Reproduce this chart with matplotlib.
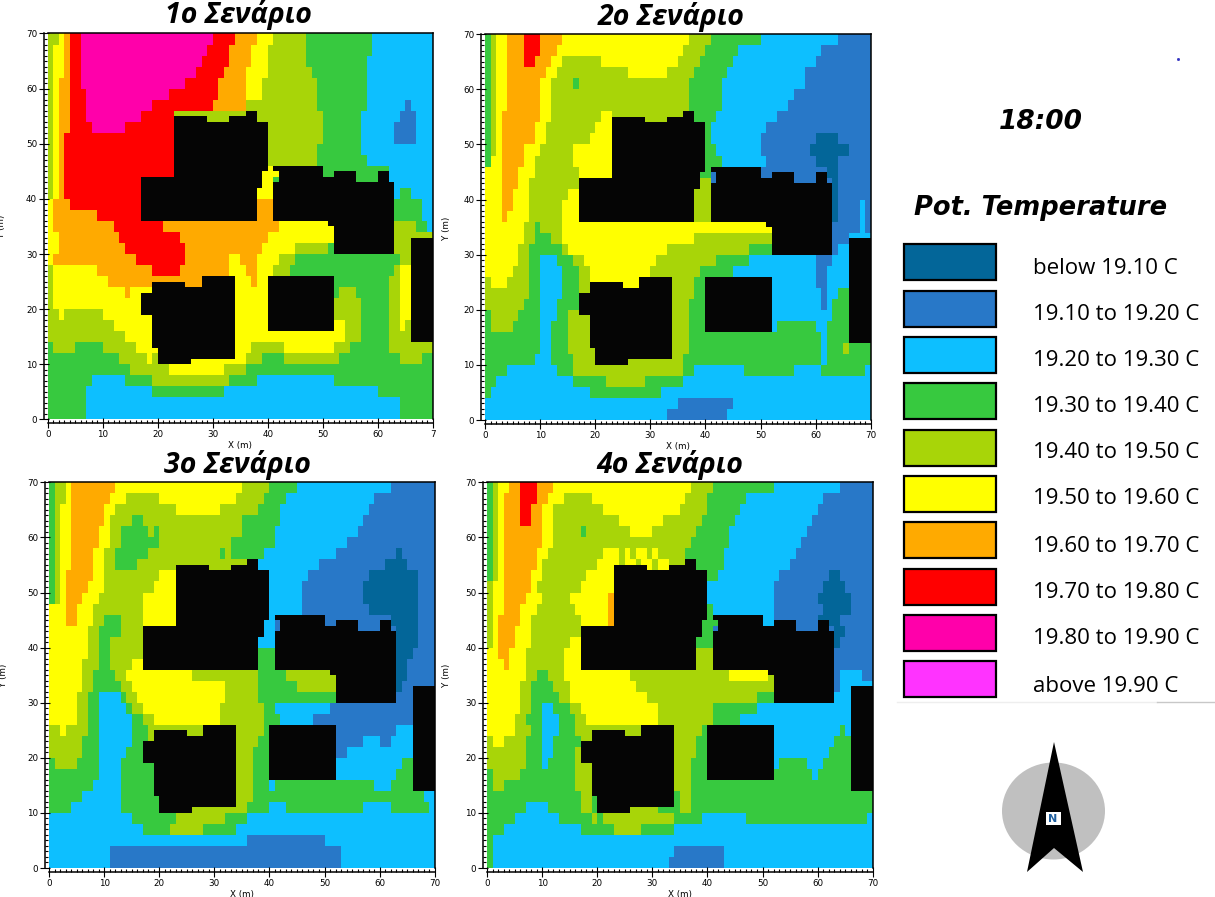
import numpy as np
import matplotlib
matplotlib.use("Agg")
import matplotlib.pyplot as plt
import matplotlib.patches as mpatches
from matplotlib.colors import ListedColormap, BoundaryNorm

# colour classes, lowest to highest
LEGEND_LABELS = ["below 19.10 C", "19.10 to 19.20 C", "19.20 to 19.30 C", "19.30 to 19.40 C",
                 "19.40 to 19.50 C", "19.50 to 19.60 C", "19.60 to 19.70 C", "19.70 to 19.80 C",
                 "19.80 to 19.90 C", "above 19.90 C"]
CLASS_COLORS = ["#036699", "#2878C8", "#0DBFFF", "#37C93F", "#A8D508",
                "#FFFF00", "#FFAA00", "#FF0000", "#FF00AA", "#FF33FF"]

TITLES = ["1ο Σενάριο", "2ο Σενάριο", "3ο Σενάριο", "4ο Σενάριο"]
TICKS = [0, 10, 20, 30, 40, 50, 60, 70]

# rows from y=70 down, 2 m each. Pairs of "class end_x"
PANEL_1 = [
    "4 2 5 3 6 4 7 6 8 30 7 34 6 38 5 41 4 47 3 59 2 70",
    "4 1 5 3 6 4 7 6 8 29 7 33 6 37 5 40 4 47 3 59 2 70",
    "4 1 5 3 6 4 7 6 8 28 7 33 6 37 5 40 4 47 3 58 2 70",
    "4 1 5 3 6 4 7 6 8 27 7 32 6 36 5 40 4 48 3 58 2 70",
    "4 1 5 2 6 4 7 6 8 25 7 31 6 36 5 39 4 49 3 58 2 70",
    "4 1 5 2 6 4 7 7 8 22 7 31 6 36 5 39 4 49 3 58 2 70",
    "4 1 5 2 6 4 7 7 8 19 7 30 6 36 4 49 3 58 2 65 1 66 2 70",
    "4 1 5 2 6 4 7 7 8 17 7 23 4 50 3 57 2 64 1 67 2 70",
    "4 1 5 2 6 4 7 8 8 14 7 23 4 50 3 57 2 63 1 67 2 70",
    "4 1 5 2 6 3 7 40 4 50 3 57 2 63 1 67 2 70",
    "4 1 5 2 6 3 7 40 4 49 3 57 2 70",
    "4 1 5 2 6 3 7 40 4 49 3 58 2 70",
    "4 1 5 2 6 3 7 39 5 42 3 62 2 70",
    "4 1 5 2 6 3 7 39 5 41 3 60 2 70",
    "4 1 5 2 6 3 7 38 5 41 2 64 3 66 2 70",
    "5 1 6 4 7 38 6 41 3 68 2 70",
    "5 1 6 9 7 38 6 41 3 68 2 70",
    "5 1 6 12 7 21 6 42 5 52 4 67 3 69 2 70",
    "5 2 6 13 7 24 6 40 5 52 4 70",
    "5 2 6 14 7 25 6 39 5 45 4 51 3 63 4 70",
    "5 1 6 16 7 25 6 33 5 35 6 38 5 42 4 45 3 64 4 70",
    "4 1 5 9 6 19 7 24 6 33 5 36 6 38 5 41 4 44 3 63 4 64 5 70",
    "4 1 5 11 6 28 5 37 6 38 5 52 3 62 4 64 5 70",
    "4 1 5 14 6 15 5 52 3 53 4 56 3 62 4 64 5 70",
    "4 1 5 52 4 57 3 62 4 64 5 70",
    "4 2 5 3 4 10 5 52 4 57 3 62 4 64 5 70",
    "4 12 5 54 4 57 3 62 4 64 5 65 4 70",
    "4 14 5 54 4 57 3 62 4 70",
    "3 1 4 5 3 10 4 16 5 37 4 43 5 52 4 55 3 62 4 70",
    "3 13 4 18 5 19 4 26 5 36 4 39 3 43 4 53 3 64 4 68 3 70",
    "3 15 4 22 5 32 4 36 3 70",
    "3 8 2 14 3 19 4 33 3 38 2 52 3 70",
    "3 7 2 19 3 32 2 60 3 70",
    "3 7 2 64 3 70",
    "3 7 2 64 3 70",
]

PANEL_2 = [
    "3 1 4 2 5 4 6 7 7 10 6 14 5 37 4 41 3 50 2 64 1 70",
    "3 1 4 2 5 4 6 7 7 10 6 13 5 36 4 40 3 46 2 61 1 70",
    "3 1 4 2 5 4 6 7 7 9 6 12 5 14 4 21 5 35 4 39 3 45 2 60 1 70",
    "3 1 4 2 5 4 6 11 5 13 4 26 5 33 4 38 3 44 2 58 1 70",
    "3 1 4 2 5 4 6 10 5 12 4 16 3 17 4 37 3 43 2 58 1 70",
    "3 1 4 2 5 4 6 10 5 12 4 37 3 43 2 56 1 70",
    "3 1 4 2 5 4 6 10 5 12 4 37 3 43 2 55 1 70",
    "3 1 4 2 5 3 6 10 5 12 4 21 5 23 4 38 3 42 2 53 1 70",
    "3 1 4 2 5 3 6 9 5 11 4 20 5 40 3 41 2 51 1 70",
    "3 1 4 2 5 3 6 9 5 11 4 19 5 40 3 41 2 50 1 60 0 64 1 70",
    "3 1 4 2 5 3 6 7 5 10 4 16 5 40 3 42 2 50 1 59 0 66 1 70",
    "3 1 5 3 6 7 5 9 4 16 5 40 3 43 2 51 1 60 0 64 1 70",
    "5 3 6 6 5 9 4 17 5 39 3 41 1 62 0 64 1 70",
    "5 3 6 6 5 8 4 17 5 39 4 41 1 63 0 64 1 70",
    "5 3 6 5 5 8 4 15 5 38 4 41 1 63 0 64 1 70",
    "5 3 6 5 5 8 4 14 5 38 4 41 1 63 0 64 1 68 2 69 1 70",
    "5 3 6 4 5 8 4 14 5 38 4 41 1 63 0 64 1 68 2 69 1 70",
    "5 7 4 9 3 10 4 14 5 52 4 63 1 68 2 69 1 70",
    "5 7 4 9 3 12 4 14 5 38 4 52 1 66 2 70",
    "5 6 4 8 3 14 4 15 5 33 4 48 3 52 1 64 2 70",
    "5 6 4 8 3 10 2 13 3 16 4 18 5 31 4 42 3 48 2 60 1 63 2 70",
    "5 5 4 8 3 10 2 14 3 17 4 19 5 30 4 39 3 45 2 60 1 62 2 70",
    "4 1 5 4 4 8 3 10 2 14 3 17 4 19 5 28 4 38 3 40 2 60 1 62 2 70",
    "4 8 3 10 2 14 3 17 4 38 3 40 2 61 1 62 2 64 3 70",
    "4 7 3 10 2 13 3 17 4 37 3 40 2 61 1 62 2 63 3 70",
    "3 1 4 6 3 10 2 13 3 15 4 37 3 40 2 63 3 70",
    "3 1 4 5 3 10 2 12 3 15 4 37 3 40 2 53 3 60 2 62 3 70",
    "3 10 2 12 3 15 4 37 3 61 2 62 3 70",
    "3 10 2 12 3 15 4 37 3 61 2 62 3 65 4 66 3 70",
    "3 9 2 12 3 16 4 36 3 61 2 62 3 70",
    "3 4 2 13 3 16 4 36 3 38 2 47 3 56 2 61 3 69 2 70",
    "3 2 2 16 3 22 4 29 3 36 2 70",
    "3 1 2 19 3 32 2 70",
    "2 35 1 45 2 70",
    "2 33 1 44 2 70",
]

PANEL_3 = [
    "3 1 4 3 5 4 6 12 5 35 4 40 3 45 2 62 1 70",
    "3 1 4 3 5 4 6 11 5 14 4 20 5 34 4 39 3 43 2 59 1 70",
    "3 1 4 2 5 4 6 10 5 12 4 23 5 31 4 38 3 42 2 58 1 70",
    "3 1 4 2 5 4 6 10 5 11 4 15 3 17 4 35 3 42 2 57 1 70",
    "3 1 4 2 5 4 6 9 5 11 4 13 3 18 4 19 3 20 4 35 3 41 2 56 1 70",
    "3 1 4 2 5 4 6 9 5 11 4 13 3 20 4 33 3 41 2 54 1 70",
    "3 1 4 2 5 4 6 8 5 10 4 12 3 18 4 31 3 32 4 33 3 39 2 52 1 63 0 64 1 70",
    "3 1 4 2 5 4 6 8 5 10 4 12 3 16 4 38 2 49 1 61 0 65 1 70",
    "3 1 4 2 5 3 6 8 5 10 4 20 5 40 2 47 1 58 0 67 1 70",
    "3 1 4 2 5 3 6 7 5 10 4 19 5 40 2 46 1 57 0 67 1 70",
    "3 1 4 2 5 3 6 6 5 9 4 17 5 40 2 46 1 57 0 67 1 70",
    "5 3 6 5 5 8 4 17 5 40 2 46 1 58 0 67 1 70",
    "5 3 6 5 5 8 4 10 3 13 4 17 5 39 2 41 1 62 0 67 1 70",
    "5 7 4 9 3 13 4 17 5 39 2 41 1 63 0 67 1 70",
    "5 7 4 9 3 11 4 17 5 38 2 41 1 63 0 67 1 70",
    "5 7 4 9 3 11 4 17 5 38 3 41 1 63 0 66 1 70",
    "5 6 4 9 3 11 4 15 5 38 3 41 1 63 0 65 1 70",
    "5 6 4 8 3 12 4 14 5 26 4 38 3 43 4 63 0 65 1 70",
    "5 6 4 8 3 13 4 15 5 32 4 38 3 45 4 63 0 64 1 70",
    "5 5 4 7 3 9 2 13 3 14 4 16 5 32 4 38 3 63 1 70",
    "5 5 4 7 3 9 2 14 3 15 4 17 5 31 4 39 3 41 2 51 1 70",
    "5 5 4 7 3 9 2 15 3 17 4 19 5 31 4 39 3 42 2 48 1 70",
    "4 2 5 3 4 7 3 9 2 15 3 18 4 39 3 40 1 63 2 70",
    "4 6 3 9 2 15 3 18 4 38 3 40 1 57 2 60 1 62 2 70",
    "4 6 3 9 2 14 3 17 4 37 3 40 1 54 2 70",
    "3 1 4 5 3 9 2 13 3 19 4 37 3 40 2 64 3 70",
    "3 9 2 13 3 19 4 37 3 40 2 63 3 70",
    "3 8 2 13 3 19 4 37 3 40 2 41 3 59 2 62 3 70",
    "3 6 2 13 3 20 4 37 3 68 2 70",
    "3 4 2 13 3 20 4 36 3 40 2 43 3 57 2 62 3 69 2 70",
    "2 15 3 23 4 32 3 36 2 70",
    "2 17 3 22 4 28 3 34 2 70",
    "2 36 1 50 2 70",
    "2 11 1 53 2 70",
    "2 11 1 53 2 70",
]

PANEL_4 = [
    "3 1 4 2 5 4 6 6 7 9 6 12 5 37 4 41 3 52 2 64 1 70",
    "3 1 4 2 5 3 6 6 7 9 6 11 5 14 4 19 5 36 4 40 3 47 2 61 1 70",
    "3 1 4 2 5 3 6 6 7 8 6 10 5 12 4 21 5 35 4 40 3 46 2 60 1 70",
    "3 1 4 2 5 3 6 6 7 8 6 10 5 12 4 24 5 32 4 39 3 45 2 59 1 70",
    "3 1 4 2 5 3 6 10 5 12 4 17 3 18 4 26 5 30 4 38 3 44 2 58 1 70",
    "3 1 4 2 5 3 6 10 5 12 4 37 3 44 2 57 1 70",
    "3 1 4 2 5 3 6 9 5 11 4 21 5 24 4 25 5 26 4 27 5 29 4 30 5 31 4 36 3 43 2 56 1 70",
    "3 1 4 2 5 3 6 9 5 10 4 20 5 24 4 25 5 27 4 28 5 30 4 31 5 33 4 36 3 43 2 55 1 70",
    "3 1 4 2 5 3 6 8 5 10 4 18 5 40 3 42 2 53 1 62 0 64 1 70",
    "4 1 5 3 6 8 5 9 4 17 5 40 2 52 1 61 0 65 1 70",
    "4 1 5 3 6 7 5 10 4 15 5 22 6 40 2 52 1 60 0 66 1 70",
    "4 1 5 3 6 6 5 9 4 16 5 22 6 40 3 41 2 52 1 61 0 66 1 70",
    "4 1 5 2 6 6 5 8 4 17 5 22 6 39 3 42 2 52 1 60 0 64 1 70",
    "4 1 5 2 6 5 5 8 4 17 3 41 1 63 0 65 1 70",
    "4 1 5 2 6 5 5 8 4 15 5 17 3 41 1 63 0 64 1 70",
    "5 2 6 4 5 7 4 14 5 17 4 41 1 70",
    "5 3 6 4 5 7 4 14 5 17 4 41 1 70",
    "5 7 4 9 3 11 4 14 5 26 4 44 5 51 4 63 1 64 2 68 1 70",
    "5 6 4 8 3 12 4 15 5 27 4 63 1 64 2 70",
    "5 6 4 8 3 13 4 15 5 29 4 49 3 63 2 70",
    "5 6 4 8 3 10 2 12 3 15 4 17 5 31 4 41 3 49 2 70",
    "5 5 4 7 3 10 2 13 3 16 4 18 5 31 4 41 3 46 2 70",
    "5 5 4 8 3 10 2 13 3 16 4 39 3 40 2 64 3 65 2 70",
    "4 1 5 3 4 7 3 10 2 12 3 17 4 38 3 40 2 63 3 70",
    "4 7 3 10 2 12 3 16 4 38 3 40 2 62 3 70",
    "4 7 3 10 2 11 3 16 4 37 3 40 2 53 3 58 2 61 3 70",
    "3 1 4 6 3 16 4 37 3 40 2 52 3 59 2 60 3 70",
    "3 1 4 3 3 16 4 19 4 37 3 70",
    "3 17 4 19 3 35 4 37 3 70",
    "3 7 2 11 3 17 4 19 3 20 4 31 3 35 4 37 3 70",
    "3 5 2 13 3 19 4 20 3 21 4 34 3 39 2 47 3 69 2 70",
    "3 3 2 17 3 23 4 28 3 34 2 70",
    "3 1 2 70",
    "3 1 2 34 1 43 2 70",
    "3 1 2 33 1 43 2 70",
]

# buildings, same in every scenario: y_from, y_to, x_from, x_to
BUILDINGS = [
    (55, 56, 36, 38), (54, 55, 23, 29), (54, 55, 33, 38), (45, 54, 23, 40), (44, 45, 23, 39),
    (42, 44, 17, 39), (36, 42, 17, 38),
    (45, 46, 41, 50), (44, 45, 42, 50), (44, 45, 52, 56), (44, 45, 60, 62), (43, 44, 42, 56),
    (43, 44, 60, 62), (36, 43, 41, 63), (35, 36, 51, 63), (30, 35, 52, 63),
    (25, 26, 28, 34), (24, 25, 19, 25), (24, 25, 28, 34), (23, 24, 19, 34), (19, 23, 17, 34),
    (13, 19, 19, 34), (11, 13, 20, 34), (10, 11, 20, 26),
    (16, 26, 40, 52), (14, 33, 66, 70),
]

W, H = 1215, 897
PANEL_RECTS = [(47.7, 33.5, 433.0, 419.5), (485.0, 34.3, 870.7, 420.0),
               (49.0, 482.3, 434.7, 868.0), (487.0, 482.3, 872.7, 868.0)]
TITLE_POS = [(238, 15), (671, 17), (237, 465), (670, 465)]
LAST_LABEL = ["7", "70", "70", "70"]
SWATCH_TOPS = [244, 291, 337, 383, 430, 476, 522, 569, 615, 661]
TEXT_Y = [269, 315, 361, 407, 453, 499, 546, 592, 639, 686]


def decode(rows):
    grid = np.zeros((35, 70))
    for i, row in enumerate(rows):
        parts = row.split()
        start = 0
        for c, end in zip(parts[0::2], parts[1::2]):
            grid[34 - i, start:int(end)] = int(c)
            start = int(end)
    return grid


cmap = ListedColormap(CLASS_COLORS)
norm = BoundaryNorm(np.arange(-0.5, 10.5), 10)

mask = np.zeros((70, 70))
for y0, y1, x0, x1 in BUILDINGS:
    mask[y0:y1, x0:x1] = 1
mask = np.ma.masked_equal(mask, 0)

fig = plt.figure(figsize=(W / 100, H / 100), dpi=100, facecolor="white")

for n, rows in enumerate([PANEL_1, PANEL_2, PANEL_3, PANEL_4]):
    x0, top, x1, bottom = PANEL_RECTS[n]
    ax = fig.add_axes([x0 / W, 1 - bottom / H, (x1 - x0) / W, (bottom - top) / H])
    ax.pcolormesh(np.arange(71), np.arange(0, 71, 2), decode(rows), cmap=cmap, norm=norm,
                  linewidth=0, antialiased=False)
    ax.pcolormesh(np.arange(71), np.arange(71), mask, cmap=ListedColormap(["#050505"]),
                  linewidth=0, antialiased=False)
    ax.set_xlim(0, 70)
    ax.set_ylim(0, 70)
    for s in ["left", "bottom"]:
        ax.spines[s].set_position(("outward", 2.6))
    for s in ax.spines.values():
        s.set_linewidth(1.1)
    ax.set_xticks(TICKS)
    ax.set_xticklabels([str(t) for t in TICKS[:-1]] + [LAST_LABEL[n]])
    ax.set_yticks(TICKS)
    ax.set_xticks(np.arange(71), minor=True)
    ax.set_yticks(np.arange(71), minor=True)
    ax.tick_params(which="major", direction="inout", length=7, width=0.8, labelsize=6.3, pad=1.5)
    ax.tick_params(which="minor", direction="in", length=2, width=0.8)
    ax.set_xlabel("X (m)", fontsize=6.3, labelpad=1.5)
    if n in (0, 2):
        ax.set_ylabel("Y (m)", fontsize=6.3, labelpad=14)

ov = fig.add_axes([0, 0, 1, 1], facecolor="none")
ov.set_xlim(0, W)
ov.set_ylim(H, 0)
ov.axis("off")

for (tx, ty), t in zip(TITLE_POS, TITLES):
    ov.text(tx, ty, t, ha="center", va="center", fontsize=20.5, family="Open Sans",
            fontweight="bold", style="italic")

# right hand column
ov.text(1041, 122, "18:00", ha="center", va="center", fontsize=19, family="DejaVu Sans",
        fontweight="bold", style="italic")
ov.text(1041, 208, "Pot. Temperature", ha="center", va="center", fontsize=18.5,
        family="DejaVu Sans", fontweight="bold", style="italic")
ov.plot([1178], [59], marker="s", ms=1, color="#3030C0", ls="none")

for i, label in enumerate(LEGEND_LABELS):
    ov.add_patch(mpatches.Rectangle((903.5, SWATCH_TOPS[i]), 92.5, 36.5, fc=CLASS_COLORS[i],
                                    ec="black", lw=1.6))
    ov.text(1033, TEXT_Y[i], label, ha="left", va="center", fontsize=16, family="Open Sans")

ov.plot([897, 1157], [702, 702], color="#EEEEEE", lw=1)
ov.plot([1157, 1215], [702, 702], color="#C8C8C8", lw=1)

# north arrow
ov.add_patch(mpatches.Ellipse((1053.5, 811), 103, 97, fc="#C0C0C0", ec="none"))
ov.add_patch(mpatches.Polygon([(1054, 742), (1083, 872), (1054, 848), (1027, 872)],
                              closed=True, fc="black", ec="none"))
ov.add_patch(mpatches.Rectangle((1046, 812), 15, 13, fc="white", ec="none"))
ov.text(1053, 818.5, "N", ha="center", va="center", fontsize=8, fontweight="bold", color="#2060A0")

# cut-off Y labels behind the panels
for ly in (228, 675):
    ov.text(446, ly, "Y (m)", rotation=90, ha="center", va="center", fontsize=6.3)
    ov.add_patch(mpatches.Rectangle((436, ly - 20), 9.5, 40, fc="white", ec="none"))

fig.savefig("out.png", dpi=100)
